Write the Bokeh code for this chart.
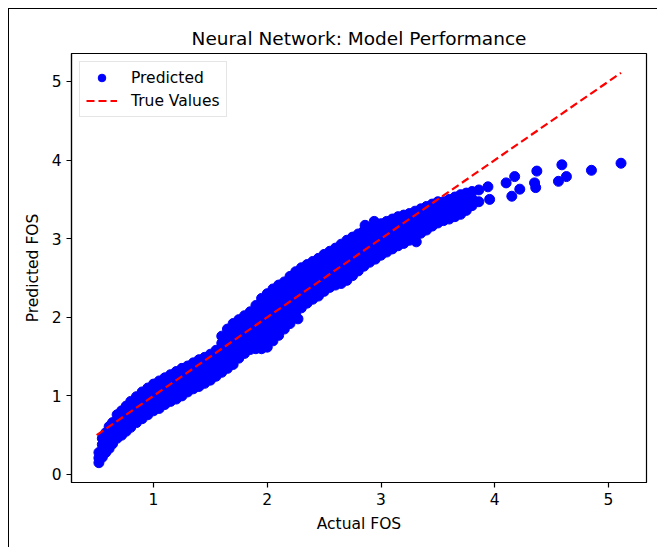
from bokeh.plotting import figure
from bokeh.models import FixedTicker, Range1d, ColumnDataSource
from bokeh.embed import file_html
from bokeh.resources import INLINE

# ---- data (Actual FOS vs Predicted FOS) ----
actual_cols = [
    0.52, 0.55, 0.58, 0.61, 0.64, 0.68, 0.72, 0.76, 0.80, 0.85,
    0.90, 0.95, 1.00, 1.05, 1.10, 1.15, 1.20, 1.25, 1.30, 1.35,
    1.40, 1.45, 1.50, 1.55, 1.60, 1.65, 1.70, 1.75, 1.80, 1.85,
    1.90, 1.95, 2.00, 2.05, 2.10, 2.15, 2.20, 2.25, 2.30, 2.35,
    2.40, 2.45, 2.50, 2.55, 2.60, 2.65, 2.70, 2.75, 2.80, 2.85,
    2.90, 2.95, 3.00, 3.05, 3.10, 3.15, 3.20, 3.25, 3.30, 3.35,
    3.40, 3.45, 3.50, 3.55, 3.60, 3.65, 3.70, 3.75, 3.80, 3.86,
]
predicted_cols = [
    [0.15, 0.21, 0.28],
    [0.22, 0.30, 0.38, 0.46],
    [0.28, 0.36, 0.45, 0.53],
    [0.33, 0.40, 0.47, 0.54, 0.61],
    [0.39, 0.46, 0.53, 0.60, 0.66],
    [0.46, 0.53, 0.61, 0.69, 0.76],
    [0.50, 0.58, 0.66, 0.74, 0.81],
    [0.55, 0.63, 0.71, 0.79, 0.87],
    [0.60, 0.68, 0.76, 0.85, 0.93],
    [0.66, 0.74, 0.82, 0.91, 0.99],
    [0.71, 0.79, 0.88, 0.96, 1.05],
    [0.76, 0.84, 0.93, 1.01, 1.10],
    [0.81, 0.89, 0.98, 1.06, 1.15],
    [0.84, 0.93, 1.02, 1.10, 1.19],
    [0.89, 0.97, 1.06, 1.14, 1.23],
    [0.93, 1.01, 1.10, 1.18, 1.27],
    [0.96, 1.05, 1.14, 1.22, 1.31],
    [1.00, 1.09, 1.18, 1.26, 1.35],
    [1.05, 1.13, 1.21, 1.30, 1.38],
    [1.09, 1.17, 1.25, 1.34, 1.42],
    [1.12, 1.21, 1.29, 1.38, 1.46],
    [1.16, 1.24, 1.32, 1.41, 1.49],
    [1.20, 1.28, 1.36, 1.45, 1.53],
    [1.25, 1.33, 1.41, 1.50, 1.58],
    [1.30, 1.39, 1.48, 1.57, 1.67, 1.76],
    [1.35, 1.44, 1.54, 1.64, 1.75, 1.85],
    [1.40, 1.50, 1.60, 1.71, 1.81, 1.92],
    [1.48, 1.58, 1.68, 1.77, 1.87, 1.97],
    [1.54, 1.63, 1.73, 1.83, 1.92, 2.02],
    [1.59, 1.68, 1.78, 1.88, 1.97, 2.07],
    [1.60, 1.69, 1.78, 1.88, 1.97, 2.06, 2.15],
    [1.60, 1.69, 1.78, 1.87, 1.96, 2.05, 2.15, 2.24],
    [1.62, 1.71, 1.81, 1.91, 2.01, 2.11, 2.20, 2.30],
    [1.70, 1.79, 1.89, 1.98, 2.08, 2.17, 2.27, 2.36],
    [1.77, 1.86, 1.95, 2.04, 2.14, 2.23, 2.32, 2.41],
    [1.85, 1.94, 2.03, 2.12, 2.20, 2.28, 2.37, 2.45],
    [1.92, 2.01, 2.10, 2.18, 2.27, 2.35, 2.44, 2.52],
    [2.05, 2.14, 2.23, 2.32, 2.41, 2.50, 2.58],
    [2.12, 2.21, 2.29, 2.38, 2.46, 2.55, 2.63],
    [2.18, 2.26, 2.34, 2.42, 2.51, 2.59, 2.67],
    [2.23, 2.31, 2.39, 2.47, 2.55, 2.63, 2.71],
    [2.27, 2.35, 2.43, 2.51, 2.59, 2.67, 2.75],
    [2.33, 2.41, 2.49, 2.57, 2.64, 2.72, 2.80],
    [2.38, 2.46, 2.53, 2.61, 2.69, 2.76, 2.84],
    [2.41, 2.49, 2.57, 2.65, 2.72, 2.80, 2.88],
    [2.43, 2.51, 2.60, 2.68, 2.76, 2.85, 2.93],
    [2.47, 2.56, 2.64, 2.73, 2.81, 2.90, 2.98],
    [2.53, 2.61, 2.69, 2.77, 2.86, 2.94, 3.02],
    [2.59, 2.67, 2.75, 2.83, 2.90, 2.98, 3.06],
    [2.65, 2.73, 2.80, 2.88, 2.95, 3.03, 3.10],
    [2.70, 2.77, 2.84, 2.92, 2.99, 3.06, 3.13],
    [2.74, 2.81, 2.88, 2.95, 3.02, 3.09, 3.16],
    [2.79, 2.87, 2.95, 3.03, 3.11, 3.19],
    [2.83, 2.91, 2.99, 3.06, 3.14, 3.22],
    [2.87, 2.95, 3.02, 3.10, 3.17, 3.25],
    [2.91, 2.98, 3.06, 3.13, 3.21, 3.28],
    [2.94, 3.01, 3.08, 3.16, 3.23, 3.30],
    [2.98, 3.05, 3.12, 3.18, 3.25, 3.32],
    [3.02, 3.09, 3.15, 3.22, 3.28, 3.35],
    [3.07, 3.15, 3.23, 3.30, 3.38],
    [3.11, 3.19, 3.26, 3.34, 3.41],
    [3.16, 3.23, 3.30, 3.37, 3.44],
    [3.20, 3.27, 3.34, 3.40, 3.47],
    [3.23, 3.31, 3.39, 3.47],
    [3.25, 3.33, 3.42, 3.50],
    [3.28, 3.36, 3.45, 3.53],
    [3.31, 3.39, 3.48, 3.56],
    [3.36, 3.47, 3.58],
    [3.42, 3.51, 3.60],
    [3.47, 3.62],
]
# sparse / outlying points
sparse_actual = [2.27, 2.86, 2.94, 3.31, 3.94, 3.955, 4.10, 4.175, 4.15, 4.22,
                 4.37, 4.35, 4.36, 4.59, 4.63, 4.56, 4.85, 5.11]
sparse_predicted = [1.98, 3.17, 3.22, 2.96, 3.66, 3.50, 3.71, 3.79, 3.54, 3.63,
                    3.86, 3.71, 3.65, 3.94, 3.79, 3.73, 3.87, 3.96]

true_line = [0.50, 5.11]

x_ticks = [1, 2, 3, 4, 5]
y_ticks = [0, 1, 2, 3, 4, 5]

# ---- build table ----
actual, predicted = [], []
for xv, ys in zip(actual_cols, predicted_cols):
    for yv in ys:
        actual.append(xv)
        predicted.append(yv)
actual += sparse_actual
predicted += sparse_predicted
src = ColumnDataSource(dict(x=actual, y=predicted))

FONT = "DejaVu Sans"

p = figure(width=649, height=539, output_backend="svg", toolbar_location=None,
           x_range=Range1d(0.279, 5.334), y_range=Range1d(-0.102, 5.356),
           min_border_left=62, min_border_right=12, min_border_top=44,
           min_border_bottom=66, title="Neural Network: Model Performance",
           background_fill_color="white", border_fill_color="white")
p.styles = {"margin-left": "8px", "margin-top": "8px",
            "border-top": "1.5px solid black", "border-left": "1.5px solid black"}

p.scatter("x", "y", source=src, size=10, color="blue", legend_label="Predicted")
p.line(true_line, true_line, line_color="red", line_width=2.2, line_dash="8 4",
       legend_label="True Values")

p.xgrid.visible = False
p.ygrid.visible = False
p.outline_line_color = "black"
p.outline_line_width = 1.2

p.title.align = "center"
p.title.text_font = FONT
p.title.text_font_size = "18.5px"
p.title.text_font_style = "normal"
p.title.text_color = "black"

p.xaxis.ticker = FixedTicker(ticks=x_ticks)
p.yaxis.ticker = FixedTicker(ticks=y_ticks)
p.xaxis.axis_label = "Actual FOS"
p.yaxis.axis_label = "Predicted FOS"
for ax in (p.xaxis, p.yaxis):
    ax.axis_label_text_font = FONT
    ax.axis_label_text_font_size = "15.5px"
    ax.axis_label_text_font_style = "normal"
    ax.axis_label_text_color = "black"
    ax.major_label_text_font = FONT
    ax.major_label_text_font_size = "15.5px"
    ax.major_label_text_color = "black"
    ax.axis_line_color = "black"
    ax.axis_line_width = 1.2
    ax.major_tick_line_color = "black"
    ax.major_tick_line_width = 1.2
    ax.major_tick_out = 5
    ax.major_tick_in = 0
    ax.minor_tick_out = 0
    ax.minor_tick_in = 0
    ax.major_label_standoff = 5
    ax.axis_label_standoff = 7

leg = p.legend[0]
leg.location = "top_left"
leg.margin = 8
leg.padding = 6
leg.spacing = 4
leg.glyph_width = 31
leg.glyph_height = 19
leg.label_height = 19
leg.label_standoff = 14
leg.label_text_font = FONT
leg.label_text_font_size = "15.5px"
leg.label_text_color = "black"
leg.border_line_color = "#cccccc"
leg.border_line_width = 1
leg.background_fill_alpha = 0.8

open("out.html", "w").write(file_html(p, INLINE))
